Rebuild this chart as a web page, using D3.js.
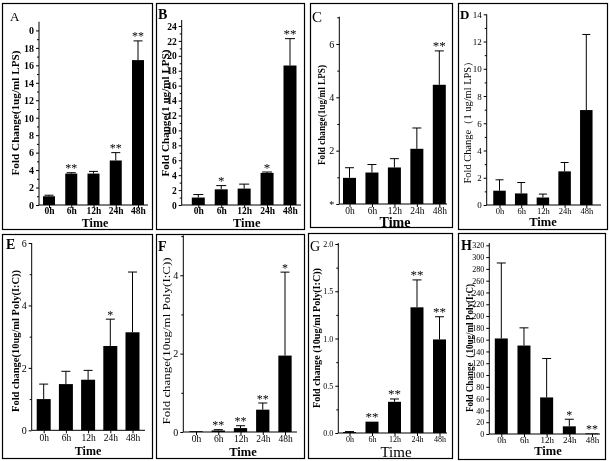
<!DOCTYPE html>
<html><head><meta charset="utf-8">
<script src="https://cdn.jsdelivr.net/npm/d3@7"></script>
<style>html,body{margin:0;padding:0;background:#fff}svg{display:block;filter:grayscale(1)}</style>
</head><body>
<svg id="chart" width="610" height="461"></svg>
<script>
// ---------- DATA ----------
const timePoints = ["0h", "6h", "12h", "24h", "48h"];

const meanA = [1.0, 3.6, 3.6, 5.1, 16.6];
const errA  = [0.12, 0.1, 0.25, 0.9, 2.2];
const sigA  = ["", "**", "", "**", "**"];
const yTicksA = [0, 2, 4, 6, 8, 10, 12, 14, 16, 18, 20];
const yTickLabelsA = ["0", "2", "4", "6", "8", "10", "12", "14", "16", "18", "0"];
const yMinorA = [1, 3, 5, 7, 9, 11, 13, 15, 17, 19];
const yLabelA = "Fold Change(1ug/ml LPS)";

const meanB = [1.0, 2.1, 2.2, 4.3, 18.7];
const errB  = [0.4, 0.5, 0.6, 0.12, 3.6];
const sigB  = ["", "*", "", "*", "**"];
const yTicksB = [0, 2, 4, 6, 8, 10, 12, 14, 16, 18, 20, 22, 24];
const yTickLabelsB = ["0", "2", "4", "6", "8", "10", "12", "14", "16", "18", "20", "22", "24"];
const yMinorB = [1, 3, 5, 7, 9, 11, 13, 15, 17, 19, 21, 23];
const yLabelB = "Fold Change(1 ug/ml LPS)";

const meanC = [0.98, 1.18, 1.37, 2.07, 4.47];
const errC  = [0.38, 0.3, 0.33, 0.78, 1.27];
const sigC  = ["", "", "", "", "**"];
const yTicksC = [0, 2, 4, 6];
const yTickLabelsC = ["*", "2", "4", "6"];
const yMinorC = [1, 3, 5, 7];
const yLabelC = "Fold change(1ug/ml LPS)";

const meanD = [1.05, 0.85, 0.55, 2.47, 6.97];
const errD  = [0.8, 0.8, 0.25, 0.65, 5.55];
const sigD  = ["", "", "", "", ""];
const yTicksD = [0, 2, 4, 6, 8, 10, 12, 14];
const yTickLabelsD = ["0", "2", "4", "6", "8", "10", "12", "14"];
const yMinorD = [1, 3, 5, 7, 9, 11, 13];
const yLabelD = "Fold Change（1 ug/ml LPS）";

const meanE = [1.0, 1.48, 1.62, 2.7, 3.14];
const errE  = [0.48, 0.41, 0.3, 0.86, 1.93];
const sigE  = ["", "", "", "*", ""];
const yTicksE = [0, 2, 4, 6];
const yTickLabelsE = ["0", "2", "4", "6"];
const yMinorE = [1, 3, 5];
const yLabelE = "Fold  change(10ug/ml Poly(I:C))";

const meanF = [0.02, 0.04, 0.1, 0.57, 1.95];
const errF  = [0.0, 0.02, 0.06, 0.17, 2.13];
const sigF  = ["", "**", "**", "**", "*"];
const yTicksF = [0, 2, 4];
const yTickLabelsF = ["0", "2", "4"];
const yMinorF = [1, 3, 5];
const yLabelF = "Fold change(10ug/ml Poly(I:C))";

const meanG = [0.01, 0.12, 0.33, 1.33, 0.99];
const errG  = [0.005, 0.0, 0.03, 0.29, 0.24];
const sigG  = ["", "**", "**", "**", "**"];
const yTicksG = [0, 0.5, 1.0, 1.5, 2.0];
const yTickLabelsG = ["0.0", "0.5", "1.0", "1.5", "2.0"];
const yMinorG = [0.25, 0.75, 1.25, 1.75];
const yLabelG = "Fold change (10ug/ml Poly(I:C))";

const meanH = [162, 150, 62, 13, 1];
const errH  = [128, 30, 66, 12, 0];
const sigH  = ["", "", "", "*", "**"];
const yTicksH = [0, 20, 40, 60, 80, 100, 120, 140, 160, 180, 200, 220, 240, 260, 280, 300, 320];
const yTickLabelsH = ["0", "20", "40", "60", "80", "100", "120", "140", "160", "180", "200", "220", "240", "260", "280", "300", "320"];
const yMinorH = [];
const yLabelH = "Fold Change（10ug/ml Poly(I:C)";

const panelLetters = ["A", "B", "C", "D", "E", "F", "G", "H"];
const xTitle = "Time";

// ---------- LAYOUT ----------
const FONT = "'Liberation Serif','Times New Roman',serif";
const layouts = [
  {frame:[2.5,3.5,150,226], ax:39, y0:205, yTop:21.7, dom:[0,21], yr:21.7, cx:[49,138], xEnd:148, bw:12, cap:9,
   tickFs:10, tickW:"bold", xFs:9.5, xW:"bold", xOff:8.7,
   lab:{x:15,y:113,len:125,fs:11,w:"bold"}, time:{x:95,y:226.5,fs:12,w:"bold"}, let:{x:10,y:20.7,fs:13,w:"normal"}, star:12},
  {frame:[156.5,3.5,148,226], ax:181.7, y0:205, yTop:20, dom:[0,24.8], yr:20, cx:[198.3,290], xEnd:301, bw:13, cap:10,
   tickFs:9.5, tickW:"bold", xFs:9.5, xW:"bold", xOff:8.7,
   lab:{x:165,y:113,len:127,fs:11,w:"bold"}, time:{x:246.7,y:227,fs:12.5,w:"bold"}, let:{x:158,y:19,fs:14,w:"bold"}, star:13},
  {frame:[310.5,3.5,142,224], ax:339.3, y0:204, yTop:16.7, dom:[0,7], yr:17.3, cx:[349.5,439.3], xEnd:447, bw:13, cap:9,
   tickFs:10, tickW:"normal", xFs:9.5, xW:"normal", xOff:10,
   lab:{x:321.7,y:115,len:100,fs:10,w:"bold"}, time:{x:395,y:226.7,fs:14,w:"bold"}, let:{x:312,y:21.7,fs:15,w:"normal"}, star:13},
  {frame:[458.5,3.5,149,226], ax:486.7, y0:205, yTop:14.3, dom:[0,14], yr:14.3, cx:[499.5,586.3], xEnd:601, bw:12.5, cap:8,
   tickFs:9, tickW:"normal", xFs:8.5, xW:"normal", xOff:8.5,
   lab:{x:467.7,y:120,len:127,fs:10,w:"normal"}, time:{x:543,y:226,fs:12.5,w:"bold"}, let:{x:460,y:19.3,fs:13,w:"bold"}, star:12},
  {frame:[2.5,234.5,150,224], ax:31.7, y0:430.3, yTop:243, dom:[0,6], yr:243, cx:[43.7,132.5], xEnd:145, bw:14, cap:9,
   tickFs:10, tickW:"normal", xFs:9.5, xW:"normal", xOff:11,
   lab:{x:15,y:341,len:142,fs:10,w:"bold"}, time:{x:88,y:454.7,fs:12,w:"bold"}, let:{x:6,y:248.7,fs:14,w:"bold"}, star:12},
  {frame:[156.5,234.5,148,224], ax:183.3, y0:432, yTop:235.3, dom:[0,5.02], yr:235.3, cx:[196,285], xEnd:297, bw:13.3, cap:9,
   tickFs:10, tickW:"normal", xFs:9.5, xW:"normal", xOff:10,
   lab:{x:166,y:341,len:167,fs:11,w:"normal"}, time:{x:243,y:456,fs:12.5,w:"bold"}, let:{x:158,y:250.7,fs:14,w:"bold"}, star:12},
  {frame:[308.5,233.5,144,225], ax:338.3, y0:433, yTop:243, dom:[0,2], yr:244, cx:[349.5,439.5], xEnd:447, bw:13, cap:9,
   tickFs:8, tickW:"normal", xFs:8, xW:"normal", xOff:9,
   lab:{x:316,y:338,len:140,fs:10,w:"bold"}, time:{x:396,y:457,fs:15,w:"normal"}, let:{x:310,y:250.7,fs:14,w:"normal"}, star:13},
  {frame:[458.5,233.5,147,226], ax:489.3, y0:434, yTop:243, dom:[0,320], yr:245.3, cx:[501.3,592], xEnd:600, bw:13, cap:9,
   tickFs:8, tickW:"normal", xFs:9, xW:"normal", xOff:8.5,
   lab:{x:469,y:348,len:128,fs:10,w:"bold"}, time:{x:548,y:454.5,fs:12.5,w:"bold"}, let:{x:461,y:249.7,fs:14,w:"bold"}, star:12}
];

const panels = [
  {mean:meanA, err:errA, sig:sigA, ticks:yTicksA, labels:yTickLabelsA, minor:yMinorA, yLabel:yLabelA},
  {mean:meanB, err:errB, sig:sigB, ticks:yTicksB, labels:yTickLabelsB, minor:yMinorB, yLabel:yLabelB},
  {mean:meanC, err:errC, sig:sigC, ticks:yTicksC, labels:yTickLabelsC, minor:yMinorC, yLabel:yLabelC},
  {mean:meanD, err:errD, sig:sigD, ticks:yTicksD, labels:yTickLabelsD, minor:yMinorD, yLabel:yLabelD},
  {mean:meanE, err:errE, sig:sigE, ticks:yTicksE, labels:yTickLabelsE, minor:yMinorE, yLabel:yLabelE},
  {mean:meanF, err:errF, sig:sigF, ticks:yTicksF, labels:yTickLabelsF, minor:yMinorF, yLabel:yLabelF},
  {mean:meanG, err:errG, sig:sigG, ticks:yTicksG, labels:yTickLabelsG, minor:yMinorG, yLabel:yLabelG},
  {mean:meanH, err:errH, sig:sigH, ticks:yTicksH, labels:yTickLabelsH, minor:yMinorH, yLabel:yLabelH}
];

const svg = d3.select("#chart");
svg.append("rect").attr("width", 610).attr("height", 461).attr("fill", "#fff");

panels.forEach((p, k) => {
  const L = layouts[k];
  const g = svg.append("g").attr("class", "panel-" + panelLetters[k]);

  g.append("rect")
    .attr("x", L.frame[0]).attr("y", L.frame[1])
    .attr("width", L.frame[2]).attr("height", L.frame[3])
    .attr("fill", "none").attr("stroke", "#000").attr("stroke-width", 1.2);

  const y = d3.scaleLinear().domain(L.dom).range([L.y0, L.yr]);
  const x = d3.scalePoint().domain(timePoints).range(L.cx);

  const rows = timePoints.map((t, i) => ({t, m: p.mean[i], e: p.err[i], s: p.sig[i]}));

  // bars
  g.selectAll("rect.bar").data(rows).join("rect").attr("class", "bar")
    .attr("x", d => x(d.t) - L.bw / 2)
    .attr("y", d => y(d.m))
    .attr("width", L.bw)
    .attr("height", d => Math.max(0.8, L.y0 - y(d.m)))
    .attr("fill", "#000");

  // error bars
  const eb = rows.filter(d => d.e > 0);
  g.selectAll("line.err").data(eb).join("line").attr("class", "err")
    .attr("x1", d => x(d.t)).attr("x2", d => x(d.t))
    .attr("y1", d => y(d.m)).attr("y2", d => y(d.m + d.e))
    .attr("stroke", "#000").attr("stroke-width", 1);
  g.selectAll("line.cap").data(eb).join("line").attr("class", "cap")
    .attr("x1", d => x(d.t) - L.cap / 2).attr("x2", d => x(d.t) + L.cap / 2)
    .attr("y1", d => y(d.m + d.e)).attr("y2", d => y(d.m + d.e))
    .attr("stroke", "#000").attr("stroke-width", 1);

  // significance stars
  g.selectAll("text.sig").data(rows.filter(d => d.s)).join("text").attr("class", "sig")
    .attr("x", d => x(d.t))
    .attr("y", d => y(d.m + d.e) - 0.5)
    .attr("text-anchor", "middle")
    .attr("font-family", FONT).attr("font-size", L.star).attr("fill", "#000")
    .text(d => d.s);

  // y axis
  const ya = g.append("g").attr("transform", `translate(${L.ax},0)`)
    .call(d3.axisLeft(y).tickValues(p.ticks).tickFormat((d, i) => p.labels[i]).tickSize(3).tickSizeOuter(0).tickPadding(2));
  ya.select(".domain").remove();
  ya.selectAll("line").attr("stroke", "#000");
  ya.selectAll("text").attr("font-family", FONT).attr("font-size", L.tickFs)
    .attr("font-weight", L.tickW).attr("fill", "#000").attr("dy", "0.33em");
  if (p.minor.length) {
    const ym = g.append("g").attr("transform", `translate(${L.ax},0)`)
      .call(d3.axisLeft(y).tickValues(p.minor).tickFormat("").tickSize(2).tickSizeOuter(0));
    ym.select(".domain").remove();
    ym.selectAll("line").attr("stroke", "#000");
  }
  g.append("line").attr("x1", L.ax).attr("x2", L.ax).attr("y1", L.y0).attr("y2", L.yTop)
    .attr("stroke", "#000").attr("stroke-width", 1);

  // x axis
  const xa = g.append("g").attr("transform", `translate(0,${L.y0})`)
    .call(d3.axisBottom(x).tickSize(3).tickSizeOuter(0));
  xa.select(".domain").remove();
  xa.selectAll("line").attr("stroke", "#000");
  xa.selectAll("text").attr("font-family", FONT).attr("font-size", L.xFs)
    .attr("font-weight", L.xW).attr("fill", "#000").attr("y", L.xOff).attr("dy", 0);
  g.append("line").attr("x1", L.ax).attr("x2", L.xEnd).attr("y1", L.y0).attr("y2", L.y0)
    .attr("stroke", "#000").attr("stroke-width", 1);

  // axis titles
  g.append("text")
    .attr("transform", `translate(${L.lab.x},${L.lab.y}) rotate(-90)`)
    .attr("text-anchor", "middle").attr("dominant-baseline", "central")
    .attr("font-family", FONT).attr("font-size", L.lab.fs).attr("font-weight", L.lab.w)
    .attr("textLength", L.lab.len).attr("lengthAdjust", "spacingAndGlyphs")
    .attr("fill", "#000")
    .text(p.yLabel);
  g.append("text")
    .attr("x", L.time.x).attr("y", L.time.y).attr("text-anchor", "middle")
    .attr("font-family", FONT).attr("font-size", L.time.fs).attr("font-weight", L.time.w)
    .attr("fill", "#000")
    .text(xTitle);

  // panel letter
  g.append("text")
    .attr("x", L.let.x).attr("y", L.let.y)
    .attr("font-family", FONT).attr("font-size", L.let.fs).attr("font-weight", L.let.w)
    .attr("fill", "#000")
    .text(panelLetters[k]);
});
</script>
</body></html>
